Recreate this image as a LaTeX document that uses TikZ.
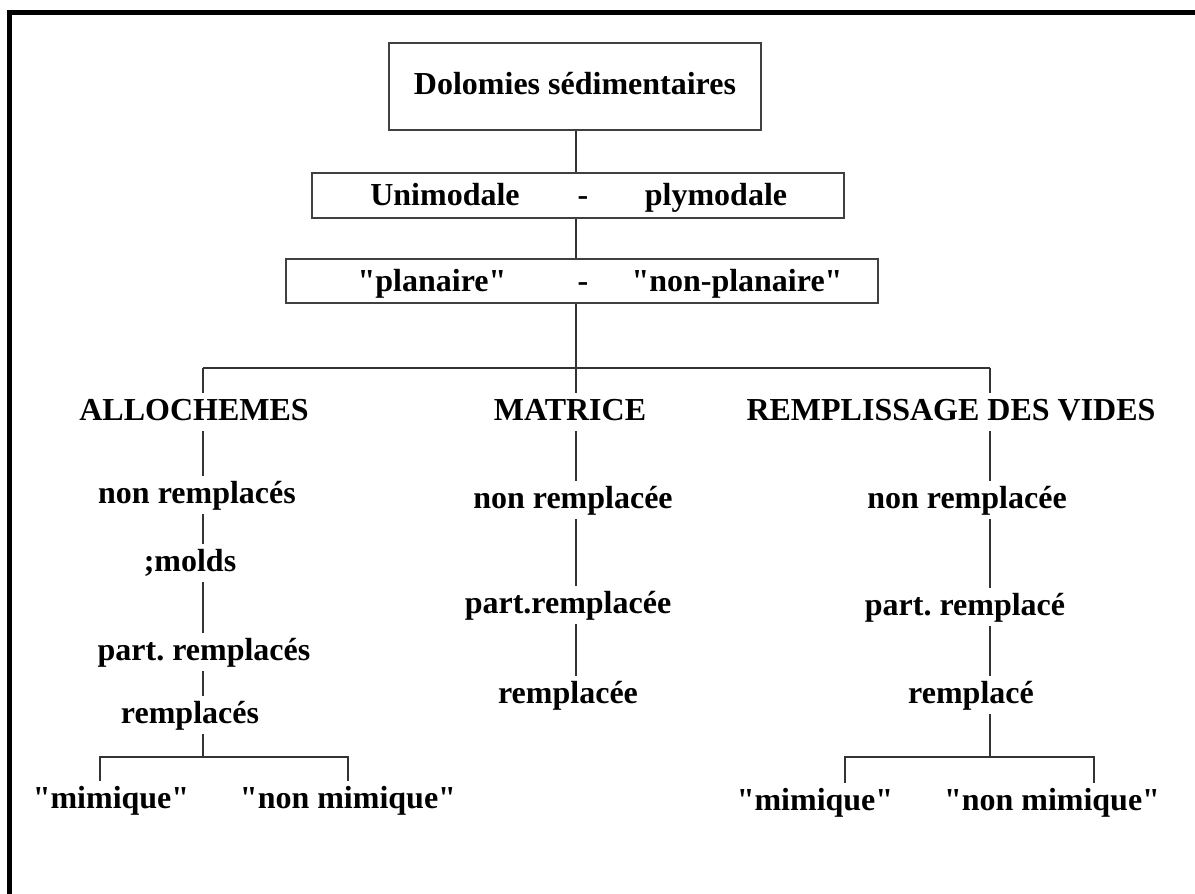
\documentclass[tikz,border=0pt]{standalone}
\usepackage{fontspec}
\setmainfont{Liberation Serif}
\frenchspacing
\newcommand{\dq}{\textquotedbl}
\begin{document}
\begin{tikzpicture}[x=0.5pt,y=-0.5pt,
	lbl/.style={font=\bfseries\fontsize{16}{19}\selectfont, inner sep=2pt, text height=11.5pt, text depth=3.5pt},
	modebox/.style={draw=black!75, line width=1.3pt, inner sep=0pt},
	link/.style={draw=black!80, line width=1pt},
	frameline/.style={line width=2.5pt}]
	\useasboundingbox (0,0) rectangle (1195,894);
	% outer frame, runs off the page on the right and at the bottom
	\draw[frameline] (9,900) -- (9,12.5) -- (1200,12.5);

	% classification boxes
	\node[modebox, lbl, minimum width=186pt, minimum height=43.5pt] (dolo) at (575,86.5) {Dolomies sédimentaires};
	\node[modebox, minimum width=266pt, minimum height=22.5pt] (mode) at (578,195.5) {};
	\node[lbl] (uni) at (445,197) {Unimodale};
	\node[lbl] (dashA) at (583,197) {-};
	\node[lbl] (ply) at (716,197) {plymodale};
	\node[modebox, minimum width=296pt, minimum height=22pt] (plan) at (582,281) {};
	\node[lbl] (pl) at (432,283) {\dq planaire\dq};
	\node[lbl] (dashB) at (583,283) {-};
	\node[lbl] (npl) at (737,283) {\dq non-planaire\dq};

	% column lines
	\coordinate (colA) at (203,0);
	\coordinate (colM) at (576,0);
	\coordinate (colR) at (990,0);
	\coordinate (fork) at (576,368);

	\draw[link] (dolo.south -| colM) -- (mode.north -| colM);
	\draw[link] (mode.south -| colM) -- (plan.north -| colM);
	\draw[link] (plan.south -| colM) -- (fork);
	\draw[link] (fork -| colA) -- (fork -| colR);

	% headings
	\node[lbl] (allo) at (194,412) {ALLOCHEMES};
	\node[lbl] (matr) at (570,412) {MATRICE};
	\node[lbl] (remp) at (951,412) {REMPLISSAGE DES VIDES};
	\foreach \c/\h in {colA/allo, colM/matr, colR/remp}
		\draw[link] (fork -| \c) -- (\h.north -| \c);

	% allochemes
	\node[lbl] (nrA) at (197,495) {non remplacés};
	\node[lbl] (molds) at (190,563) {;molds};
	\node[lbl] (prA) at (204,652) {part. remplacés};
	\node[lbl] (rA) at (190,715) {remplacés};
	\node[lbl] (mimA) at (111,800) {\dq mimique\dq};
	\node[lbl] (nmA) at (348,800) {\dq non mimique\dq};
	\foreach \a/\b in {allo/nrA, nrA/molds, molds/prA, prA/rA}
		\draw[link] (\a.south -| colA) -- (\b.north -| colA);
	\coordinate (forkA) at (203,757);
	\coordinate (tA1) at (100,0);
	\coordinate (tA2) at (348,0);
	\draw[link] (rA.south -| colA) -- (forkA);
	\draw[link] (mimA.north -| tA1) -- (forkA -| tA1) -- (forkA -| tA2) -- (nmA.north -| tA2);

	% matrice
	\node[lbl] (nrM) at (573,500) {non remplacée};
	\node[lbl] (prM) at (568,605) {part.remplacée};
	\node[lbl] (rM) at (568,695) {remplacée};
	\foreach \a/\b in {matr/nrM, nrM/prM, prM/rM}
		\draw[link] (\a.south -| colM) -- (\b.north -| colM);

	% remplissage des vides
	\node[lbl] (nrR) at (967,500) {non remplacée};
	\node[lbl] (prR) at (965,607) {part. remplacé};
	\node[lbl] (rR) at (971,695) {remplacé};
	\node[lbl] (mimR) at (815,802) {\dq mimique\dq};
	\node[lbl] (nmR) at (1052,802) {\dq non mimique\dq};
	\foreach \a/\b in {remp/nrR, nrR/prR, prR/rR}
		\draw[link] (\a.south -| colR) -- (\b.north -| colR);
	\coordinate (forkR) at (990,757);
	\coordinate (tR1) at (845,0);
	\coordinate (tR2) at (1094,0);
	\draw[link] (rR.south -| colR) -- (forkR);
	\draw[link] (mimR.north -| tR1) -- (forkR -| tR1) -- (forkR -| tR2) -- (nmR.north -| tR2);
\end{tikzpicture}
\end{document}
